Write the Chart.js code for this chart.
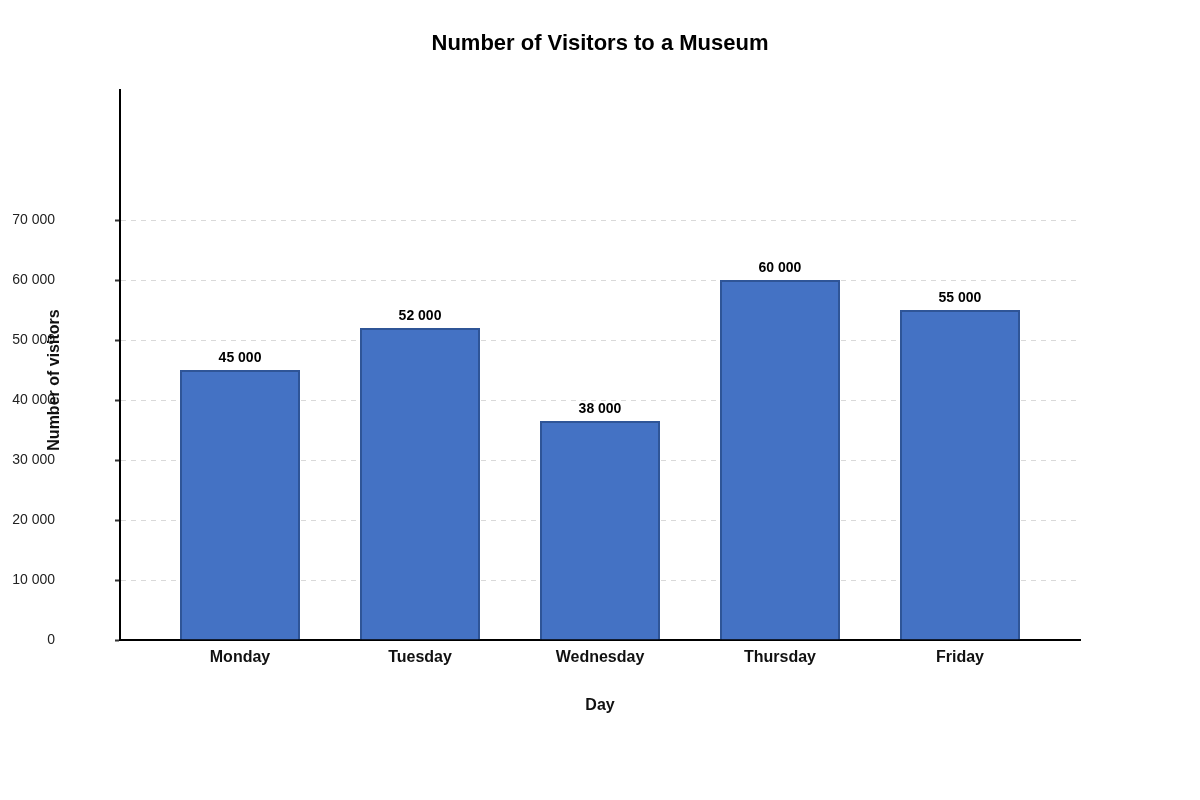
<!DOCTYPE html>
<html>
<head>
<meta charset="utf-8">
<title>Number of Visitors to a Museum</title>
<script src="https://cdn.jsdelivr.net/npm/chart.js@4/dist/chart.umd.min.js"></script>
<style>
    html, body { margin: 0; padding: 0; background: #fff; }
    #wrap { width: 1200px; height: 800px; }
</style>
</head>
<body>
<div id="wrap"><canvas id="visitorsChart"></canvas></div>
<script>
// Datos del gráfico
const days = ['Monday', 'Tuesday', 'Wednesday', 'Thursday', 'Friday'];
const visitors = [45000, 52000, 36500, 60000, 55000];
const visitorLabels = ['45 000', '52 000', '38 000', '60 000', '55 000'];
const yTicks = [0, 10000, 20000, 30000, 40000, 50000, 60000, 70000];
const yMax = 91667;

const FONT = "'Liberation Sans', Arial, sans-serif";

// Formato con espacio como separador de miles
function formatThousands(v) {
    return String(v).replace(/\B(?=(\d{3})+(?!\d))/g, ' ');
}

// Etiquetas encima de cada barra
const barLabelsPlugin = {
    id: 'barLabels',
    afterDatasetsDraw(chart) {
        const ctx = chart.ctx;
        const meta = chart.getDatasetMeta(0);
        ctx.save();
        ctx.font = 'bold 14px ' + FONT;
        ctx.fillStyle = '#000';
        ctx.textAlign = 'center';
        ctx.textBaseline = 'bottom';
        meta.data.forEach((bar, i) => {
            ctx.fillText(visitorLabels[i], bar.x, bar.y - 5);
        });
        ctx.restore();
    }
};

// Título del eje Y (superpuesto a las etiquetas, como en el original)
const yTitlePlugin = {
    id: 'yTitle',
    afterDraw(chart) {
        const ctx = chart.ctx;
        ctx.save();
        ctx.translate(55, 380);
        ctx.rotate(-Math.PI / 2);
        ctx.font = 'bold 16px ' + FONT;
        ctx.fillStyle = '#111';
        ctx.textAlign = 'center';
        ctx.textBaseline = 'middle';
        ctx.fillText('Number of visitors', 0, 0);
        ctx.restore();
    }
};

const ctx = document.getElementById('visitorsChart').getContext('2d');
new Chart(ctx, {
    type: 'bar',
    data: {
        datasets: [{
            label: 'Visitors',
            data: days.map((d, i) => ({ x: i, y: visitors[i] })),
            backgroundColor: '#4472C4',
            borderColor: '#2F5597',
            borderWidth: 2,
            categoryPercentage: 1,
            barPercentage: 0.6667
        }]
    },
    options: {
        responsive: true,
        maintainAspectRatio: false,
        animation: false,
        layout: {
            padding: 0
        },
        plugins: {
            legend: { display: false },
            tooltip: { enabled: false },
            title: {
                display: true,
                text: 'Number of Visitors to a Museum',
                color: '#000',
                font: { family: FONT, size: 22, weight: 'bold' },
                padding: { top: 31, bottom: 32.6 }
            }
        },
        scales: {
            x: {
                type: 'linear',
                offset: false,
                min: -0.6667,
                max: 4.6667,
                afterBuildTicks(scale) {
                    scale.ticks = days.map((d, i) => ({ value: i }));
                },
                grid: { display: false, drawTicks: false, offset: false },
                border: { display: true, color: '#000', width: 2 },
                ticks: {
                    color: '#111',
                    padding: 8,
                    font: { family: FONT, size: 16, weight: 'bold' },
                    callback: (v) => days[v]
                },
                title: {
                    display: true,
                    text: 'Day',
                    color: '#111',
                    font: { family: FONT, size: 16, weight: 'bold' },
                    padding: { top: 0, bottom: 85 }
                },
                afterFit(scale) { scale.height = 160; }
            },
            y: {
                min: 0,
                max: yMax,
                afterBuildTicks(scale) {
                    scale.ticks = yTicks.map(v => ({ value: v }));
                },
                grid: {
                    color: '#d9d9d9',
                    lineWidth: 1,
                    drawTicks: true,
                    tickLength: 5,
                    tickColor: '#333',
                    tickWidth: 2
                },
                border: { display: true, color: '#000', width: 2, dash: [5, 5] },
                ticks: {
                    color: '#222',
                    padding: 60,
                    font: { family: FONT, size: 14 },
                    callback: (v) => formatThousands(v)
                },
                afterFit(scale) { scale.width = 120; }
            },
            // Eje invisible a la derecha para reservar el margen
            yRight: {
                position: 'right',
                display: true,
                grid: { display: false, drawTicks: false },
                border: { display: false },
                ticks: { display: false },
                afterFit(scale) { scale.width = 120; }
            }
        }
    },
    plugins: [barLabelsPlugin, yTitlePlugin]
});
</script>
</body>
</html>
